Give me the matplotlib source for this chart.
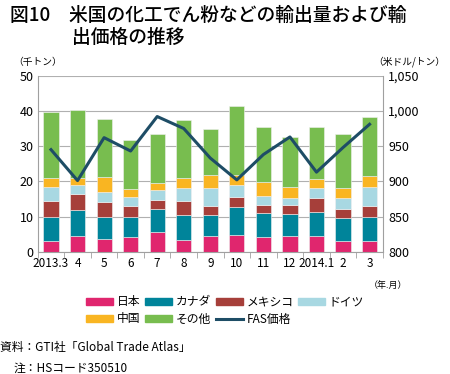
import numpy as np
import matplotlib
matplotlib.use("Agg")
import matplotlib.pyplot as plt
from matplotlib.patches import Patch
from matplotlib.lines import Line2D

plt.rcParams['font.family'] = ['Noto Sans CJK JP', 'DejaVu Sans']

months = ["2013.3", "4", "5", "6", "7", "8", "9", "10", "11", "12", "2014.1", "2", "3"]

# cumulative tops (thousand tons), converted to segments below
top_japan  = [3.1, 4.5, 3.6, 4.1, 5.5, 3.2, 4.5, 4.7, 4.1, 4.5, 4.5, 2.9, 3.0]
top_canada = [10.0, 11.8, 10.0, 10.0, 12.0, 10.3, 10.3, 12.6, 11.0, 10.8, 11.4, 9.5, 9.8]
top_mexico = [14.5, 16.5, 14.0, 13.0, 14.8, 14.3, 13.1, 15.4, 13.2, 13.4, 15.2, 12.2, 13.0]
top_germany = [18.3, 18.9, 17.0, 15.5, 17.6, 18.1, 18.1, 18.9, 15.9, 15.3, 18.0, 15.3, 18.4]
top_china  = [21.0, 20.9, 21.2, 17.9, 19.5, 20.9, 21.7, 21.8, 19.9, 18.3, 20.7, 18.2, 21.5]
top_other  = [39.8, 40.3, 37.7, 31.8, 33.3, 37.5, 34.8, 41.3, 35.3, 32.6, 35.4, 33.5, 38.4]

fas_price = [945, 901, 962, 943, 992, 975, 933, 902, 938, 963, 913, 948, 981]

names = ["日本", "カナダ", "メキシコ", "ドイツ", "中国", "その他"]
colors = ["#E0266E", "#00849A", "#A63F3A", "#A8D8E2", "#F9B522", "#78BD4F"]
line_color = "#1E4D66"

tops = np.array([top_japan, top_canada, top_mexico, top_germany, top_china, top_other])
segs = np.diff(np.vstack([np.zeros(len(months)), tops]), axis=0)

fig = plt.figure(figsize=(4.5, 3.74), dpi=100)
ax = fig.add_axes([0.0838, 0.327, 0.767, 0.4706])

x = np.arange(len(months))
bottom = np.zeros(len(months))
for seg, c in zip(segs, colors):
    ax.bar(x, seg, 0.57, bottom=bottom, color=c, edgecolor="#f0f0f0", linewidth=0.4, zorder=2)
    bottom += seg

ax.set_xlim(-0.5, len(months) - 0.5)
ax.set_ylim(0, 50)
ax.set_yticks(range(0, 51, 10))
ax.yaxis.grid(True, color="#b0b0b0", linewidth=0.8, zorder=0)
ax.set_axisbelow(True)
ax.set_xticks(x)
ax.set_xticklabels(months, fontsize=8.5)
ax.set_xticks(np.arange(-0.5, len(months)), minor=True)
ax.tick_params(axis="x", which="major", length=0, pad=4)
ax.tick_params(axis="x", which="minor", length=4, color="#a0a0a0", direction="out")
ax.tick_params(axis="y", length=0, labelsize=9, pad=3)
for s in ["top", "right"]:
    ax.spines[s].set_visible(False)
for s in ["left", "bottom"]:
    ax.spines[s].set_color("#a0a0a0")

ax2 = ax.twinx()
ax2.plot(x, fas_price, color=line_color, linewidth=2.2, zorder=5)
ax2.set_ylim(800, 1050)
ax2.set_yticks(range(800, 1051, 50))
ax2.set_yticklabels([f"{v:,}" for v in range(800, 1051, 50)])
ax2.tick_params(axis="y", length=0, labelsize=9, pad=4)
for s in ["top", "left", "bottom"]:
    ax2.spines[s].set_visible(False)
ax2.spines["right"].set_color("#a0a0a0")

fig.text(0.022, 0.96, "図10　米国の化工でん粉などの輸出量および輸", fontsize=13.5,
         fontweight="medium", va="center", ha="left")
fig.text(0.16, 0.901, "出価格の推移", fontsize=13.5, fontweight="medium", va="center", ha="left")
fig.text(0.03, 0.835, "（千トン）", fontsize=7, va="center", ha="left")
fig.text(0.99, 0.835, "（米ドル/トン）", fontsize=7, va="center", ha="right")
fig.text(0.82, 0.238, "（年.月）", fontsize=6.5, va="center", ha="left")

handles = [Patch(color=c, label=n) for c, n in zip(colors, names)]
handles.append(Line2D([], [], color=line_color, linewidth=2.2, label="FAS価格"))
order = [0, 4, 1, 5, 2, 6, 3]
fig.legend([handles[i] for i in order], [handles[i].get_label() for i in order],
           loc="center", bbox_to_anchor=(0.5, 0.17), ncol=4, frameon=False,
           fontsize=8.5, handlelength=2.3, handleheight=0.5, handletextpad=0.3,
           columnspacing=0.4, labelspacing=0.35, borderpad=0)

fig.text(0.0, 0.07, "資料：GTI社「Global Trade Atlas」", fontsize=8.5, va="center", ha="left")
fig.text(0.03, 0.016, "注：HSコード350510", fontsize=8.5, va="center", ha="left")

fig.savefig("out.png", dpi=100)
